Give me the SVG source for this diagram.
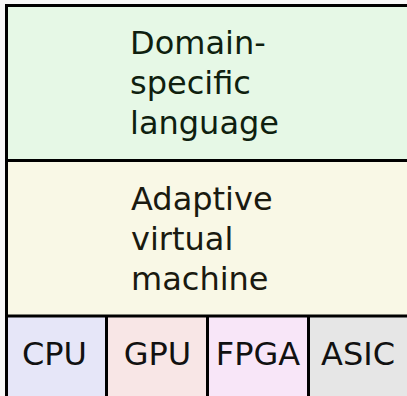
<svg xmlns="http://www.w3.org/2000/svg" width="407" height="396" viewBox="0 0 407 396">
<style>
.t{font-family:"DejaVu Sans",sans-serif;font-size:32px}
.c{text-anchor:middle;fill:#111}
.b{stroke:#000;stroke-width:3;fill:none}
</style>
<rect x="0" y="0" width="407" height="396" fill="#f8f8f8"/>
<g id="dsl">
<rect x="6.5" y="5.5" width="410" height="155" fill="#e6f8e6"/>
<text class="t" x="130" y="54" fill="#0f1f0f"><tspan x="130" y="54">Domain-</tspan><tspan x="130" y="94">specific</tspan><tspan x="130" y="134">language</tspan></text>
</g>
<g id="avm">
<rect x="6.5" y="160.5" width="410" height="155.5" fill="#f9f8e6"/>
<text class="t" x="131" y="210" fill="#1a1a10"><tspan x="131" y="210">Adaptive</tspan><tspan x="131" y="250">virtual</tspan><tspan x="131" y="290">machine</tspan></text>
</g>
<g id="cpu">
<rect x="6.5" y="316" width="100" height="90" fill="#e6e6f8"/>
<text class="t c" x="54.5" y="365">CPU</text>
</g>
<g id="gpu">
<rect x="106.5" y="316" width="101" height="90" fill="#f8e6e6"/>
<text class="t c" x="157.5" y="365">GPU</text>
</g>
<g id="fpga">
<rect x="207.5" y="316" width="101" height="90" fill="#f8e6f8"/>
<text class="t c" x="258" y="365">FPGA</text>
</g>
<g id="asic">
<rect x="308.5" y="316" width="101" height="90" fill="#e6e6e6"/>
<text class="t c" x="358" y="365">ASIC</text>
</g>
<g id="connectors">
<rect class="b" x="6.5" y="5.5" width="410" height="400"/>
<line class="b" x1="6.5" y1="160.5" x2="416.5" y2="160.5"/>
<line class="b" x1="6.5" y1="316" x2="416.5" y2="316"/>
<line class="b" x1="106.5" y1="316" x2="106.5" y2="406"/>
<line class="b" x1="207.5" y1="316" x2="207.5" y2="406"/>
<line class="b" x1="308.5" y1="316" x2="308.5" y2="406"/>
</g>
</svg>
